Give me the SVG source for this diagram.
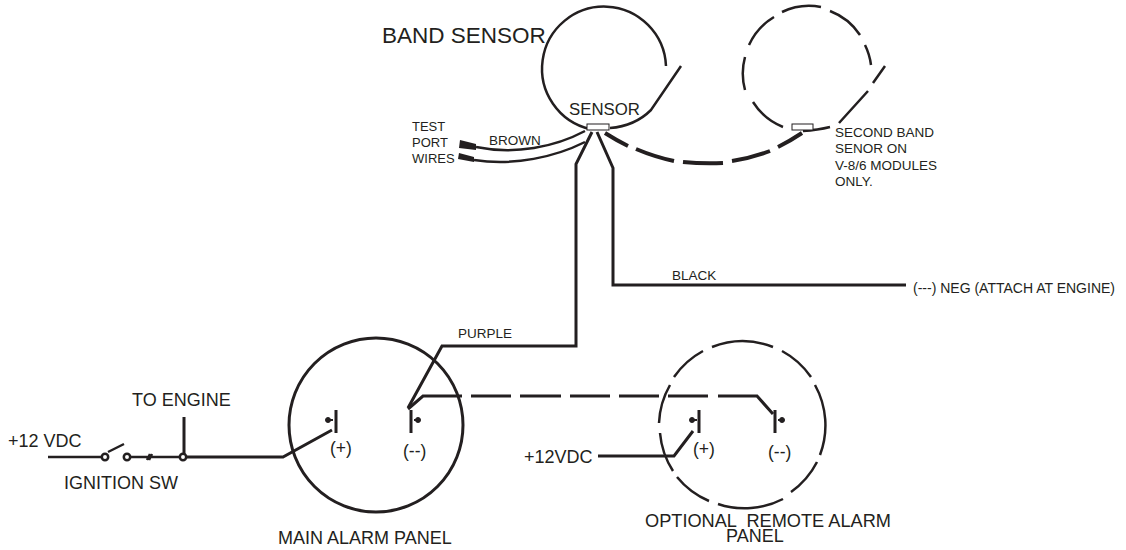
<svg xmlns="http://www.w3.org/2000/svg" width="1126" height="550" viewBox="0 0 1126 550">
<style>
text{font-family:"Liberation Sans",Arial,sans-serif;fill:#231f20}
.s{font-size:13.5px}.p{font-size:17.5px}.l{font-size:18px}.b{font-size:22.5px}
.w{fill:none;stroke:#231f20;stroke-linecap:butt;stroke-linejoin:miter}
.t1{stroke-width:2}.t2{stroke-width:2.5}.t3{stroke-width:3}.t4{stroke-width:4}
.r{fill:#fff;stroke:#231f20;stroke-width:1}
.o{fill:#fff;stroke:#231f20;stroke-width:2.5}
.d{fill:#231f20;stroke:#231f20;stroke-width:1}
</style>
<rect width="1126" height="550" fill="#fff"/>
<g id="band-sensor-1">
<path class="w t2" d="M590 129A62 62 0 1 1 666 66"/>
<path class="w t2" d="M681 66L651 110Q635 126 610 128"/>
<rect class="r" x="587" y="124" width="22" height="6"/>
<text class="b" x="382" y="43">BAND SENSOR</text>
<text class="p" x="569" y="115" style="font-size:16.8px">SENSOR</text>
</g>
<g id="band-sensor-2">
<path class="w t2" d="M783 127A63 63 0 0 1 753 102M745 90A63 63 0 0 1 745 57M749 45A63 63 0 0 1 774 17M782 12A63 63 0 0 1 821 7M830 11A63 63 0 0 1 860 35M865 45A63 63 0 0 1 871 65"/>
<path class="w t2" d="M885 66L873 83M868 91L839 123M830 127Q818 130 803 131"/>
<rect class="r" x="792" y="124" width="21" height="6"/>
<text class="s" x="835" y="137">SECOND BAND</text>
<text class="s" x="835" y="153">SENOR ON</text>
<text class="s" x="835" y="170">V-8/6 MODULES</text>
<text class="s" x="835" y="186">ONLY.</text>
</g>
<g id="test-port">
<path d="M460 140L476 144L476 150L459 148Z" fill="#231f20"/>
<path d="M459 153L474 157L474 162L458 159Z" fill="#231f20"/>
<text class="s" x="412" y="131" style="font-size:13px">TEST</text>
<text class="s" x="412" y="147" style="font-size:13px">PORT</text>
<text class="s" x="412" y="163" style="font-size:13px">WIRES</text>
<text class="s" x="489" y="145">BROWN</text>
</g>
<g id="main-alarm-panel">
<circle cx="376" cy="425" r="87" fill="none" stroke="#231f20" stroke-width="3"/>
<path class="w t3" d="M336 410V433M411 410V433"/>
<circle class="d" cx="328" cy="420" r="2.5"/><circle class="d" cx="418" cy="420" r="2.5"/>
<path class="w t1" d="M328 420H333M414 420H418"/>
<text class="p" x="330" y="454">(+)</text>
<text class="p" x="403" y="457">(--)</text>
<text class="l" x="278" y="544">MAIN ALARM PANEL</text>
</g>
<g id="remote-alarm-panel">
<path class="w t2" d="M659 423A83.5 83.5 0 0 1 670 385M674 377A83.5 83.5 0 0 1 703 351M712 347A83.5 83.5 0 0 1 773 347M782 351A83.5 83.5 0 0 1 811 377M815 385A83.5 83.5 0 0 1 820 455M791 492A83.5 83.5 0 0 0 817 462M718 504A83.5 83.5 0 0 0 783 499M677 477A83.5 83.5 0 0 0 709 501M660 433A83.5 83.5 0 0 0 673 471"/>
<path class="w t3" d="M699 410V433M775 410V433"/>
<circle class="d" cx="692" cy="420" r="2.5"/><circle class="d" cx="782" cy="420" r="2.5"/>
<path class="w t1" d="M692 420H697M778 420H782"/>
<text class="p" x="693" y="455">(+)</text>
<text class="p" x="768" y="458">(--)</text>
<text class="l" x="645" y="527" style="font-size:18.2px;white-space:pre">OPTIONAL  REMOTE ALARM</text>
<text class="l" x="726" y="542">PANEL</text>
</g>
<g id="ignition">
<circle class="o" cx="105" cy="457" r="3.2"/>
<circle class="o" cx="127" cy="457" r="3.2"/>
<circle class="o" cx="183" cy="457" r="3.2"/>
<text class="l" x="8" y="447">+12 VDC</text>
<text class="l" x="132" y="406">TO ENGINE</text>
<text class="l" x="64" y="489">IGNITION SW</text>
<text class="l" x="524" y="463">+12VDC</text>
</g>
<g id="connectors">
<path class="w t2" d="M48 457H101M108 452L124 444M131 457H180M147 460L150 454M149 460L152 454"/>
<path class="w t3" d="M184 417V454M187 457H283L332 430"/>
<path class="w t2" d="M476 147C515 155 555 147 585 131M474 160C515 166 555 157 585 142"/>
<path class="w t3" d="M592 132L576 164V346H442L408 408"/>
<path class="w t3" d="M597 132L613 168V285H906"/>
<path class="w t4" d="M605 133Q616 140 628 146M636 149Q655 157 674 161M683 162Q703 164 723 163M732 161Q752 158 770 151M778 147Q790 141 802 133"/>
<path class="w t3" d="M408 409L423 396H462M471 396H511M520 396H561M570 396H610M619 396H659M668 396H708M718 396H757L773 414"/>
<path class="w t3" d="M598 456H674L693 431"/>
</g>
<g id="labels">
<text class="s" x="458" y="338">PURPLE</text>
<text class="s" x="672" y="280">BLACK</text>
<text class="s" x="1115" y="293" text-anchor="end" style="font-size:14px">(---) NEG (ATTACH AT ENGINE)</text>
</g>
</svg>
